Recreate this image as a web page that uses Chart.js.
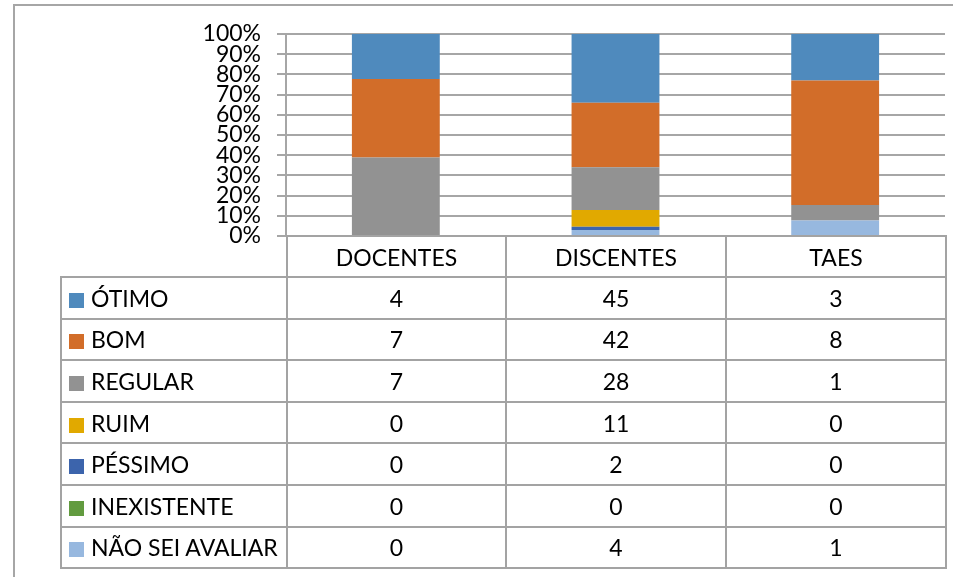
<!DOCTYPE html>
<html>
<head>
<meta charset="utf-8">
<script src="https://cdn.jsdelivr.net/npm/chart.js@4/dist/chart.umd.min.js"></script>
<style>
	body { margin: 0; background: #fff; font-family: Lato, "Open Sans", sans-serif; }
	#wrap { position: relative; width: 953px; height: 577px; overflow: hidden; }
	#frame { position: absolute; left: 13px; top: 4px; width: 960px; height: 600px;
		border-left: 2px solid #a6a6a6; border-top: 2px solid #a6a6a6; }
	#grafico { position: absolute; left: 0; top: 0; }
	#tabela { position: absolute; left: 60px; top: 235px; border-collapse: collapse; table-layout: fixed;
		font-size: 23px; color: #000; }
	#tabela td { border: 2px solid #a3a3a3; padding: 0; height: 39.6px; text-align: center; white-space: nowrap; }
	#tabela tr:first-child td { height: 39px; }
	#tabela td.nome { text-align: left; padding-left: 7px; }
	#tabela td.vazio { border-top: none; border-left: none; }
	.cor { display: inline-block; width: 15px; height: 15px; margin-right: 7px; vertical-align: -1px; }
</style>
</head>
<body>
<div id="wrap">
	<div id="frame"></div>
	<canvas id="grafico" width="953" height="577"></canvas>
	<table id="tabela"></table>
</div>
<script>
// dados
var categorias = ['DOCENTES', 'DISCENTES', 'TAES'];
var series = ['ÓTIMO', 'BOM', 'REGULAR', 'RUIM', 'PÉSSIMO', 'INEXISTENTE', 'NÃO SEI AVALIAR'];
var otimo = [4, 45, 3];
var bom = [7, 42, 8];
var regular = [7, 28, 1];
var ruim = [0, 11, 0];
var pessimo = [0, 2, 0];
var inexistente = [0, 0, 0];
var naoSei = [0, 4, 1];
var cores = ['#4f8abd', '#d26d29', '#929292', '#e1a900', '#3c64ac', '#629b3f', '#97b8df'];

var valores = [otimo, bom, regular, ruim, pessimo, inexistente, naoSei];

// totais por categoria para 100% empilhado
var totais = categorias.map(function (c, i) {
	var s = 0;
	valores.forEach(function (v) { s += v[i]; });
	return s;
});

// ultima serie fica embaixo
var datasets = [];
for (var k = series.length - 1; k >= 0; k--) {
	datasets.push({
		label: series[k],
		data: valores[k].map(function (v, i) { return v / totais[i] * 100; }),
		backgroundColor: cores[k],
		borderWidth: 0,
		barPercentage: 0.4,
		categoryPercentage: 1
	});
}

var cinza = '#a6a6a6';

new Chart(document.getElementById('grafico').getContext('2d'), {
	type: 'bar',
	data: { labels: categorias, datasets: datasets },
	options: {
		responsive: false,
		animation: false,
		layout: { padding: { left: 0, right: 8, top: 34, bottom: 341 } },
		plugins: { legend: { display: false }, tooltip: { enabled: false } },
		scales: {
			x: {
				stacked: true,
				display: false
			},
			y: {
				stacked: true,
				min: 0,
				max: 100,
				afterFit: function (scale) { scale.width = 286; },
				ticks: {
					stepSize: 10,
					autoSkip: false,
					padding: 16,
					color: '#000',
					font: { family: 'Lato', size: 23 },
					callback: function (v) { return v + '%'; }
				},
				grid: { color: cinza, lineWidth: 2, tickLength: 9 },
				border: { display: true, color: cinza, width: 2 }
			}
		}
	}
});

// tabela de dados
var html = '<colgroup><col style="width:226px"><col style="width:219px"><col style="width:220px"><col style="width:220px"></colgroup>';
html += '<tr><td class="vazio"></td>';
categorias.forEach(function (c) { html += '<td>' + c + '</td>'; });
html += '</tr>';
series.forEach(function (s, k) {
	html += '<tr><td class="nome"><span class="cor" style="background:' + cores[k] + '"></span>' + s + '</td>';
	valores[k].forEach(function (v) { html += '<td>' + v + '</td>'; });
	html += '</tr>';
});
document.getElementById('tabela').innerHTML = html;
</script>
</body>
</html>
